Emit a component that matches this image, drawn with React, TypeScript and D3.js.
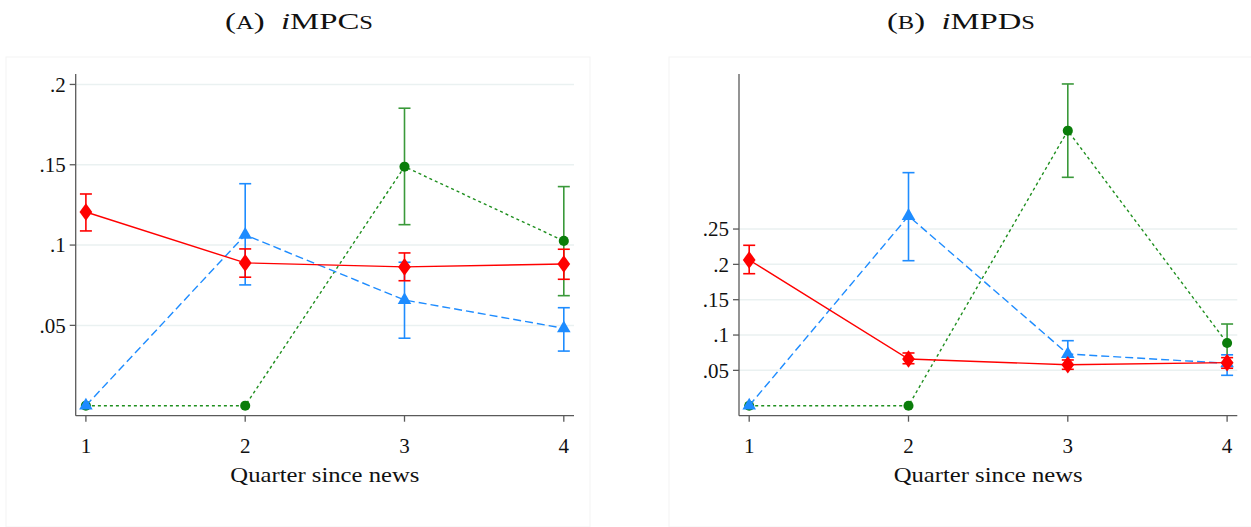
import React from "react";
import * as d3 from "d3";

const quarters = [1, 2, 3, 4];

// Panel A: iMPCs
const mpcRed = [0.1206, 0.0889, 0.0864, 0.0882];
const mpcRedLo = [0.1088, 0.08, 0.0778, 0.0787];
const mpcRedHi = [0.1318, 0.0976, 0.0951, 0.0974];
const mpcBlue = [0, 0.1063, 0.0658, 0.0482];
const mpcBlueLo = [null, 0.0752, 0.042, 0.034];
const mpcBlueHi = [null, 0.1382, 0.0893, 0.061];
const mpcGreen = [0, 0, 0.1488, 0.1026];
const mpcGreenLo = [null, null, 0.1127, 0.0685];
const mpcGreenHi = [null, null, 0.1852, 0.1364];
const mpcTicks = [0.05, 0.1, 0.15, 0.2];
const mpcTickLabels = [".05", ".1", ".15", ".2"];

// Panel B: iMPDs
const mpdRed = [0.2062, 0.0661, 0.058, 0.0609];
const mpdRedLo = [0.1868, 0.0594, 0.0515, 0.053];
const mpdRedHi = [0.227, 0.0746, 0.0647, 0.068];
const mpdBlue = [0, 0.2685, 0.0732, 0.06];
const mpdBlueLo = [null, 0.2052, 0.058, 0.043];
const mpdBlueHi = [null, 0.3298, 0.092, 0.072];
const mpdGreen = [0, 0, 0.3892, 0.0887];
const mpdGreenLo = [null, null, 0.3232, 0.061];
const mpdGreenHi = [null, null, 0.4553, 0.1156];
const mpdTicks = [0.05, 0.1, 0.15, 0.2, 0.25];
const mpdTickLabels = [".05", ".1", ".15", ".2", ".25"];

const xLabel = "Quarter since news";

const FONT = "'Liberation Serif', 'DejaVu Serif', serif";
const RED = "#ff0000";
const BLUE = "#1e8cff";
const GREEN = "#0a7d0a";
const GREEN_BAR = "#3a993a";
const AXIS = "#5a5a5a";
const GRID = "#eaf1f1";

type Series = {
  vals: number[];
  lo: (number | null)[];
  hi: (number | null)[];
  color: string;
  barColor: string;
  dash: string;
  marker: "diamond" | "triangle" | "circle";
};

function Panel(props: {
  panelX: number;
  panelW: number;
  titleX: number;
  x0: number;
  x1: number;
  yMin: number;
  yMax: number;
  ticks: number[];
  tickLabels: string[];
  series: Series[];
  title: React.ReactNode;
}) {
  const { x0, x1, yMin, yMax, ticks, tickLabels, series } = props;
  const top = 74;
  const bottom = 415.7;
  const x = d3.scaleLinear().domain([0.936, 4.064]).range([x0, x1]);
  const y = d3.scaleLinear().domain([yMin, yMax]).range([bottom, top]);
  const line = d3
    .line<number>()
    .x((_, i) => x(quarters[i]))
    .y((d) => y(d));
  const cap = 6;
  const sym = (s: Series, i: number) => {
    const cx = x(quarters[i]);
    const cy = y(s.vals[i]);
    if (s.marker === "circle") {
      const p = d3.symbol(d3.symbolCircle, 80)();
      return <path key={i} d={p || ""} transform={`translate(${cx},${cy})`} fill={s.color} />;
    }
    if (s.marker === "triangle") {
      const p = d3.symbol(d3.symbolTriangle, 80)();
      return <path key={i} d={p || ""} transform={`translate(${cx},${cy})`} fill={s.color} />;
    }
    const p = d3.symbol(d3.symbolDiamond, 90)();
    return <path key={i} d={p || ""} transform={`translate(${cx},${cy}) scale(1.25,1)`} fill={s.color} />;
  };
  const midX = (x0 + x1) / 2;
  return (
    <g>
      <rect
        x={props.panelX}
        y={57}
        width={props.panelW}
        height={470}
        fill="#ffffff"
        stroke="#f3f3f3"
        strokeWidth={1}
      />
      <text
        x={props.titleX}
        y={29}
        textAnchor="middle"
        fontFamily={FONT}
        fontSize={24}
        fill="#111"
        textLength={148}
        lengthAdjust="spacingAndGlyphs"
      >
        {props.title}
      </text>
      {ticks.map((t, i) => (
        <g key={i}>
          <line x1={x0} x2={x1} y1={y(t)} y2={y(t)} stroke={GRID} strokeWidth={1.5} />
          <line x1={x0 - 6} x2={x0} y1={y(t)} y2={y(t)} stroke={AXIS} strokeWidth={1.3} />
          <text
            x={x0 - 10}
            y={y(t)}
            dy="0.35em"
            textAnchor="end"
            fontFamily={FONT}
            fontSize={21}
            fill="#111"
          >
            {tickLabels[i]}
          </text>
        </g>
      ))}
      <line x1={x0} x2={x0} y1={top} y2={bottom} stroke={AXIS} strokeWidth={1.3} />
      <line x1={x0} x2={x1} y1={bottom} y2={bottom} stroke={AXIS} strokeWidth={1.3} />
      {quarters.map((q) => (
        <g key={q}>
          <line x1={x(q)} x2={x(q)} y1={bottom} y2={bottom + 6} stroke={AXIS} strokeWidth={1.3} />
          <text
            x={x(q)}
            y={453}
            textAnchor="middle"
            fontFamily={FONT}
            fontSize={21}
            fill="#111"
          >
            {q}
          </text>
        </g>
      ))}
      <text
        x={midX}
        y={482}
        textAnchor="middle"
        fontFamily={FONT}
        fontSize={21}
        fill="#111"
        textLength={189}
        lengthAdjust="spacingAndGlyphs"
      >
        {xLabel}
      </text>
      {series.map((s, si) => (
        <g key={si}>
          <path
            d={line(s.vals) || ""}
            fill="none"
            stroke={s.color === GREEN ? "#1f8f1f" : s.color}
            strokeWidth={1.4}
            strokeDasharray={s.dash}
          />
          {s.vals.map((_, i) => {
            const lo = s.lo[i];
            const hi = s.hi[i];
            if (lo == null || hi == null) return null;
            const cx = x(quarters[i]);
            return (
              <g key={i} stroke={s.barColor} strokeWidth={1.6}>
                <line x1={cx} x2={cx} y1={y(lo)} y2={y(hi)} />
                <line x1={cx - cap} x2={cx + cap} y1={y(lo)} y2={y(lo)} />
                <line x1={cx - cap} x2={cx + cap} y1={y(hi)} y2={y(hi)} />
              </g>
            );
          })}
          {s.vals.map((_, i) => sym(s, i))}
        </g>
      ))}
    </g>
  );
}

function makeSeries(
  g: number[], gl: (number | null)[], gh: (number | null)[],
  b: number[], bl: (number | null)[], bh: (number | null)[],
  r: number[], rl: (number | null)[], rh: (number | null)[]
): Series[] {
  return [
    { vals: g, lo: gl, hi: gh, color: GREEN, barColor: GREEN_BAR, dash: "3,3", marker: "circle" },
    { vals: b, lo: bl, hi: bh, color: BLUE, barColor: BLUE, dash: "8,4", marker: "triangle" },
    { vals: r, lo: rl, hi: rh, color: RED, barColor: RED, dash: "", marker: "diamond" },
  ];
}

export default function App() {
  const sc = 18;
  const titleA = (
    <>
      (<tspan fontSize={sc}>A</tspan>){"\u00a0\u00a0"}
      <tspan fontStyle="italic">i</tspan>MPC<tspan fontSize={sc}>S</tspan>
    </>
  );
  const titleB = (
    <>
      (<tspan fontSize={sc}>B</tspan>){"\u00a0\u00a0"}
      <tspan fontStyle="italic">i</tspan>MPD<tspan fontSize={sc}>S</tspan>
    </>
  );
  return (
    <svg
      width={1251}
      height={527}
      style={{ position: "absolute", left: 0, top: 0, background: "#fff" }}
    >
      <rect x={0} y={0} width={1251} height={527} fill="#fff" />
      <Panel
        panelX={6}
        panelW={584}
        titleX={299}
        x0={75.7}
        x1={574}
        yMin={-0.00623}
        yMax={0.2065}
        ticks={mpcTicks}
        tickLabels={mpcTickLabels}
        series={makeSeries(mpcGreen, mpcGreenLo, mpcGreenHi, mpcBlue, mpcBlueLo, mpcBlueHi, mpcRed, mpcRedLo, mpcRedHi)}
        title={titleA}
      />
      <Panel
        panelX={669}
        panelW={590}
        titleX={961}
        x0={739}
        x1={1237.3}
        yMin={-0.01415}
        yMax={0.4694}
        ticks={mpdTicks}
        tickLabels={mpdTickLabels}
        series={makeSeries(mpdGreen, mpdGreenLo, mpdGreenHi, mpdBlue, mpdBlueLo, mpdBlueHi, mpdRed, mpdRedLo, mpdRedHi)}
        title={titleB}
      />
    </svg>
  );
}
